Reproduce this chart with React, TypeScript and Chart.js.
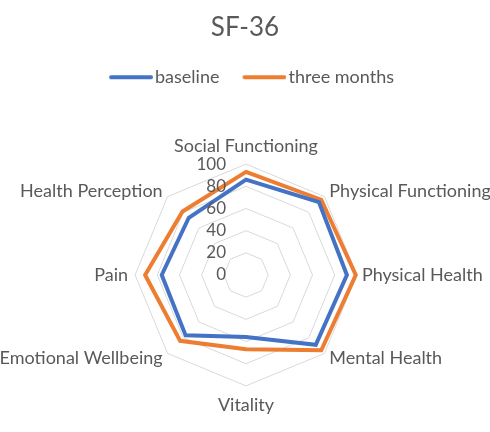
import React, { useEffect, useRef } from 'react';
import { Chart, registerables } from 'chart.js';

Chart.register(...registerables);

const categories = [
  'Social Functioning',
  'Physical Functioning',
  'Physical Health',
  'Mental Health',
  'Vitality',
  'Emotional Wellbeing',
  'Pain',
  'Health Perception',
];
const baseline = [86, 93, 91, 89, 56, 77, 76, 73];
const threeMonths = [93, 96, 99, 96, 67, 84, 91, 81];
const tickValues = [0, 20, 40, 60, 80, 100];
const seriesNames = ['baseline', 'three months'];
const seriesColors = ['#4472C4', '#ED7D31'];
const titleText = 'SF-36';

const FONT = 'Lato, "Open Sans", sans-serif';
const TEXT = '#595959';

// legend swatch: box 50 wide, image 64 wide centred on it, line at its right end
function legendLine(color: string) {
  const c = document.createElement('canvas');
  c.width = 64;
  c.height = 6;
  const g = c.getContext('2d') as CanvasRenderingContext2D;
  g.strokeStyle = color;
  g.lineWidth = 4;
  g.lineCap = 'round';
  g.beginPath();
  g.moveTo(22, 3);
  g.lineTo(62, 3);
  g.stroke();
  return c;
}

const labelPlugin = {
  id: 'excelLabels',
  afterDatasetsDraw(chart: any) {
    const s = chart.scales.r;
    const ctx = chart.ctx;
    const r = s.drawingArea;
    const xc = s.xCenter;
    const yc = s.yCenter;
    ctx.save();
    ctx.fillStyle = TEXT;
    // tick labels, left of the vertical axis
    ctx.font = `17px ${FONT}`;
    ctx.textAlign = 'right';
    ctx.textBaseline = 'middle';
    tickValues.forEach((v) => {
      const d = s.getDistanceFromCenterForValue(v);
      ctx.fillText(String(v), xc - 20, yc - d);
    });
    // category labels
    ctx.font = `18px ${FONT}`;
    categories.forEach((lab, i) => {
      const p = s.getPointPosition(i, r);
      const dx = p.x - xc;
      const dy = p.y - yc;
      let x: number;
      let y: number;
      let align: CanvasTextAlign;
      if (Math.abs(dx) < 1) {
        align = 'center';
        x = xc;
        y = dy < 0 ? yc - r - 18 : yc + r + 19;
      } else if (Math.abs(dy) < 1) {
        align = dx > 0 ? 'left' : 'right';
        x = dx > 0 ? xc + r + 5 : xc - r - 7;
        y = yc;
      } else {
        const q = s.getPointPosition(i, r + 7);
        align = dx > 0 ? 'left' : 'right';
        x = q.x;
        y = q.y;
      }
      ctx.textAlign = align;
      ctx.textBaseline = 'middle';
      ctx.fillText(lab, x, y);
    });
    ctx.restore();
  },
};

const legendMargin = {
  id: 'legendMargin',
  beforeInit(chart: any) {
    const lg = chart.legend;
    if (!lg) return;
    const orig = lg.fit;
    lg.fit = function () {
      orig.call(this);
      this.height += 40;
    };
  },
};

export default function App() {
  const ref = useRef<HTMLCanvasElement>(null);
  useEffect(() => {
    document.body.style.margin = '0';
    const lines = seriesColors.map(legendLine);
    const chart = new Chart(ref.current as HTMLCanvasElement, {
      type: 'radar',
      data: {
        labels: categories,
        datasets: [
          {
            label: seriesNames[0],
            data: baseline,
            borderColor: seriesColors[0],
            backgroundColor: seriesColors[0],
            borderWidth: 4,
            fill: false,
            pointRadius: 0,
            pointHoverRadius: 0,
            tension: 0,
          },
          {
            label: seriesNames[1],
            data: threeMonths,
            borderColor: seriesColors[1],
            backgroundColor: seriesColors[1],
            borderWidth: 4,
            fill: false,
            pointRadius: 0,
            pointHoverRadius: 0,
            tension: 0,
          },
        ],
      },
      options: {
        animation: false,
        responsive: true,
        maintainAspectRatio: false,
        layout: { padding: { top: 0, bottom: 18, left: 0, right: 0 } },
        plugins: {
          title: {
            display: true,
            text: titleText,
            color: TEXT,
            font: { family: FONT, size: 26, weight: 'normal' },
            padding: { top: 12, bottom: 15 },
          },
          legend: {
            display: true,
            position: 'top',
            labels: {
              color: TEXT,
              font: { family: FONT, size: 18 },
              usePointStyle: true,
              pointStyleWidth: 50,
              boxHeight: 6,
              padding: 10,
              generateLabels: (ch: any) =>
                Chart.defaults.plugins.legend.labels
                  .generateLabels(ch)
                  .map((l: any, i: number) => ({ ...l, pointStyle: lines[i] })),
            },
          },
          tooltip: { enabled: false },
        },
        scales: {
          r: {
            min: 0,
            max: 100,
            ticks: { display: false, stepSize: 20 },
            grid: { color: '#D9D9D9', lineWidth: 1 },
            angleLines: { display: false },
            pointLabels: {
              color: 'rgba(0,0,0,0)',
              font: { family: FONT, size: 18 },
              padding: 5,
            },
          },
        },
      },
      plugins: [labelPlugin, legendMargin],
    });
    return () => chart.destroy();
  }, []);
  return (
    <div style={{ position: 'fixed', left: 0, top: 0, width: 490, height: 432 }}>
      <canvas ref={ref} />
    </div>
  );
}
